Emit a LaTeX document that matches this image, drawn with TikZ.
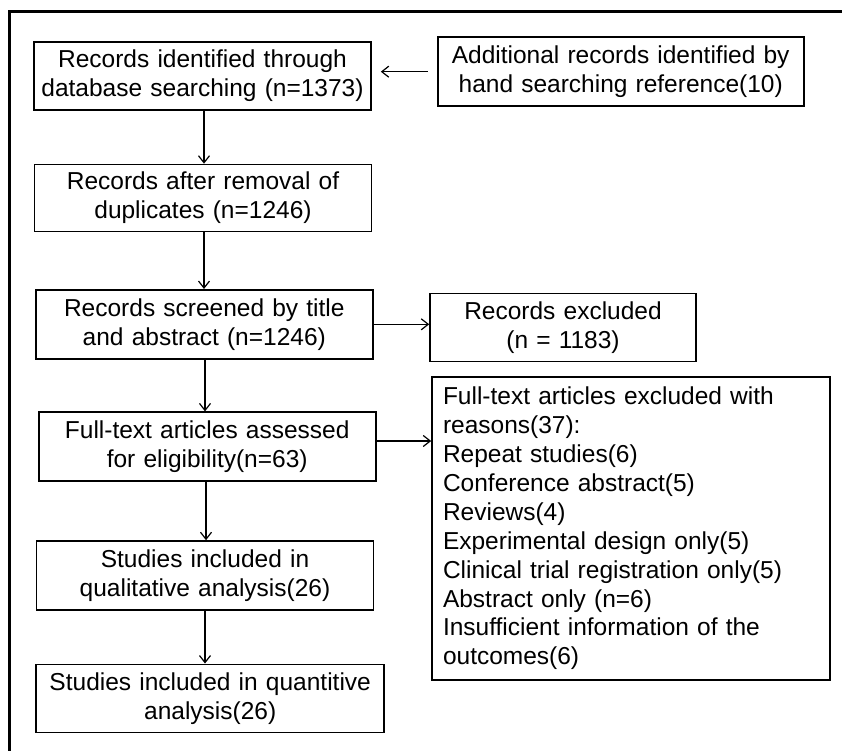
\documentclass[tikz,border=0pt]{standalone}
\usepackage{fontspec}
\setmainfont{Liberation Sans}
\usetikzlibrary{arrows.meta}
\begin{document}
\begin{tikzpicture}[x=1pt,y=-1pt,
 box/.style={draw=black, line width=1.6pt, align=center, inner sep=0pt, font=\fontsize{24.5}{28.9}\selectfont},
 arr/.style={line width=1.2pt, -{Straight Barb[length=7pt,width=11pt]}}]
\useasboundingbox (0,0) rectangle (842,751);
\draw[line width=3pt] (9,751) -- (9,12) -- (842,12);
\node[box, minimum width=337pt, minimum height=68pt, text width=330pt] (b1) at (202.5,76) {Records identified through\\database searching (n=1373)};
\node[box, minimum width=366pt, minimum height=69pt, text width=360pt] (b2) at (620.7,71.7) {Additional records identified by\\hand searching reference(10)};
\node[box, minimum width=337pt, minimum height=67pt, text width=330pt] (b3) at (203,198) {Records after removal of\\duplicates (n=1246)};
\node[box, minimum width=337pt, minimum height=69pt, text width=330pt] (b4) at (204.3,324.3) {Records screened by title\\and abstract (n=1246)};
\node[box, minimum width=266pt, minimum height=68pt, text width=260pt] (b5) at (563,327.5) {Records excluded\\(n = 1183)};
\node[box, minimum width=337pt, minimum height=69pt, text width=330pt] (b7) at (207.2,446.7) {Full-text articles assessed\\for eligibility(n=63)};
\node[box, align=left, minimum width=398pt, minimum height=303pt, text width=376pt, inner xsep=11pt] (b6) at (631,528.5) {Full-text articles excluded with\\reasons(37):\\Repeat studies(6)\\Conference abstract(5)\\Reviews(4)\\Experimental design only(5)\\Clinical trial registration only(5)\\Abstract only (n=6)\\Insufficient information of the\\outcomes(6)};
\node[box, minimum width=337pt, minimum height=69pt, text width=330pt] (b8) at (205,575.5) {Studies included in\\qualitative analysis(26)};
\node[box, minimum width=348pt, minimum height=68pt, text width=340pt] (b9) at (210.2,698.3) {Studies included in quantitive\\analysis(26)};
\draw[arr] ([xshift=-9pt]b2.west) -- ([xshift=9pt]b1.east |- b2.west);
\draw[arr] (204,110) -- (b3.north -| 204,0);
\draw[arr] (204,231.5) -- (b4.north -| 204,0);
\draw[arr] (205,358.8) -- (b7.north -| 205,0);
\draw[arr] (b4.east) -- (b4.east -| b5.west);
\draw[arr] ([yshift=5.7pt]b7.east) -- ([yshift=5.7pt]b7.east -| b6.west);
\draw[arr] (206,481.2) -- (b8.north -| 206,0);
\draw[arr] (205,610) -- (b9.north -| 205,0);
\end{tikzpicture}
\end{document}
